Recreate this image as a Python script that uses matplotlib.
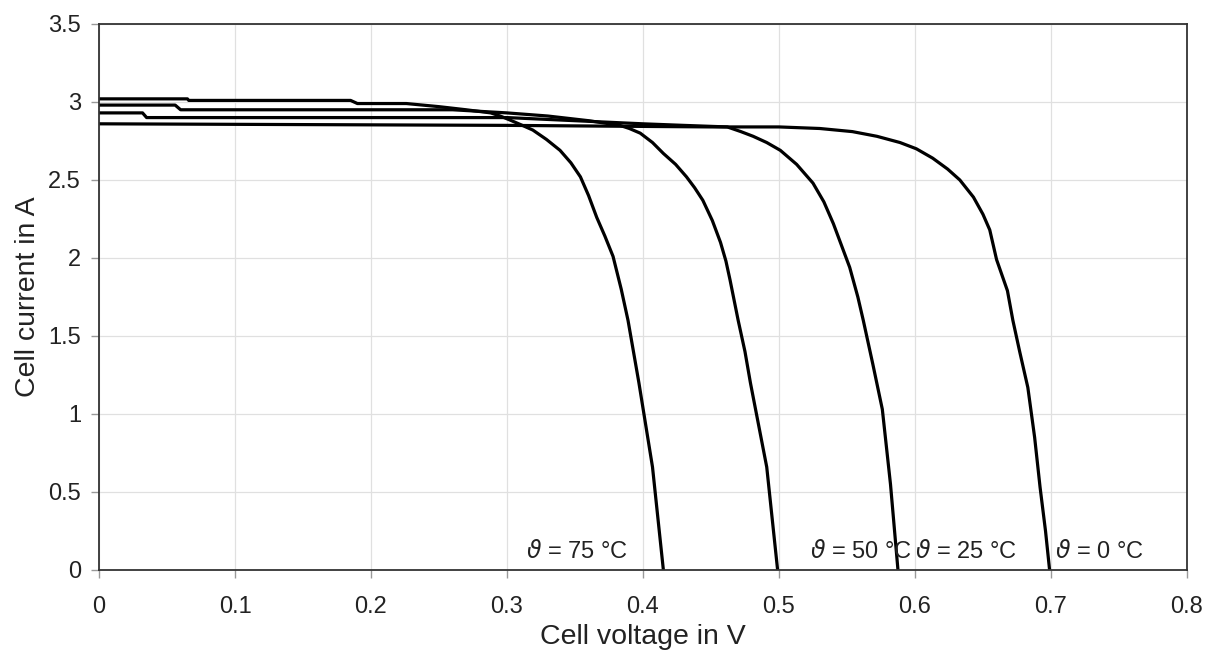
import numpy as np
import matplotlib
matplotlib.use('Agg')
import matplotlib.pyplot as plt

plt.rcParams['font.family'] = ['Liberation Sans', 'DejaVu Sans']
plt.rcParams['mathtext.fontset'] = 'dejavusans'

#-----------------------------------------------------------------------------------------------------------------------------------
# I-V curves, one per cell temperature

v_75 = [0, .065, .066, .185, .19, .226, .25, .27, .288, .295, .302, .310, .319, .329, .339, .347, .354, .360, .366,
        .372, .378, .384, .389, .393, .397, .402, .407, .411, .415]
i_75 = [3.02, 3.02, 3.01, 3.01, 2.99, 2.99, 2.97, 2.95, 2.93, 2.91, 2.885, 2.855, 2.82, 2.76, 2.69, 2.61, 2.52, 2.40, 2.26,
        2.14, 2.01, 1.80, 1.60, 1.40, 1.20, 0.93, 0.66, 0.33, 0]

v_50 = [0, .056, .06, .26, .30, .33, .36, .383, .39, .398, .407, .415, .424, .432, .438, .444, .451, .457, .461, .464,
        .470, .475, .479, .485, .491, .495, .499]
i_50 = [2.98, 2.98, 2.95, 2.95, 2.93, 2.91, 2.88, 2.85, 2.83, 2.80, 2.74, 2.67, 2.60, 2.52, 2.45, 2.37, 2.24, 2.10, 1.98, 1.86,
        1.60, 1.40, 1.20, 0.93, 0.66, 0.33, 0]

v_25 = [0, .032, .035, .30, .35, .40, .43, .462, .472, .481, .491, .501, .513, .525, .533, .540, .546, .552, .558, .562,
        .569, .576, .582, .5875]
i_25 = [2.93, 2.93, 2.90, 2.90, 2.88, 2.86, 2.85, 2.84, 2.81, 2.78, 2.74, 2.69, 2.60, 2.48, 2.36, 2.22, 2.08, 1.94, 1.75, 1.60,
        1.32, 1.03, 0.55, 0]

v_0 = [0, .30, .45, .50, .53, .554, .572, .589, .601, .613, .624, .633, .643, .650, .655, .660, .664, .668, .672, .677,
       .683, .688, .692, .696, .699]
i_0 = [2.86, 2.85, 2.84, 2.84, 2.83, 2.81, 2.78, 2.74, 2.70, 2.64, 2.57, 2.50, 2.39, 2.28, 2.18, 1.99, 1.89, 1.79, 1.60, 1.40,
       1.17, 0.85, 0.53, 0.25, 0]

labels = ['$\\vartheta$ = 75 °C', '$\\vartheta$ = 50 °C', '$\\vartheta$ = 25 °C', '$\\vartheta$ = 0 °C']
label_x = [0.314, 0.523, 0.600, 0.703]

#-----------------------------------------------------------------------------------------------------------------------------------

fig = plt.figure(figsize=(12.06, 6.55), dpi=100)
ax = fig.add_axes([0.0821, 0.1298, 0.9021, 0.8336])

for v, i in [(v_75, i_75), (v_50, i_50), (v_25, i_25), (v_0, i_0)]:
    ax.plot(v, i, color='black', lw=2.3, solid_joinstyle='round', solid_capstyle='round')

for x, txt in zip(label_x, labels):
    ax.text(x, 0.12, txt, fontsize=17, color='#222222', va='center', ha='left')

ax.set_xlim(0, 0.8)
ax.set_ylim(0, 3.5)
ax.set_xticks(np.arange(0, 0.81, 0.1))
ax.set_xticklabels(['0', '0.1', '0.2', '0.3', '0.4', '0.5', '0.6', '0.7', '0.8'])
ax.set_yticks(np.arange(0, 3.51, 0.5))
ax.set_yticklabels(['0', '0.5', '1', '1.5', '2', '2.5', '3', '3.5'])
ax.grid(True, color='#e0e0e0', lw=0.9)
ax.set_axisbelow(True)

for s in ax.spines.values():
    s.set_color('#333333')
    s.set_linewidth(1.3)

ax.tick_params(direction='out', length=6, width=1, color='#999999', labelsize=17, labelcolor='#222222')
ax.tick_params(axis='x', pad=13)
ax.tick_params(axis='y', pad=7)
ax.set_xlabel('Cell voltage in V', fontsize=20.5, color='#222222', labelpad=4)
ax.set_ylabel('Cell current in A', fontsize=20.5, color='#222222', labelpad=5)

plt.savefig('out.png', dpi=100)
